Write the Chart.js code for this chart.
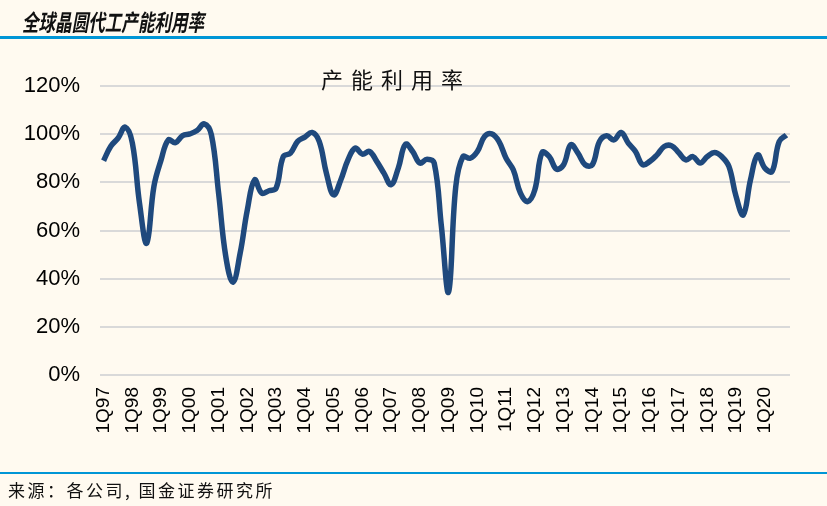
<!DOCTYPE html>
<html>
<head>
<meta charset="utf-8">
<script src="https://cdn.jsdelivr.net/npm/chart.js@4.4.0/dist/chart.umd.min.js"></script>
<style>
  html, body { margin: 0; padding: 0; background: #fffaf0; }
  #wrap { position: relative; width: 827px; height: 506px; overflow: hidden; }
  #head {
    position: absolute; left: 22px; top: 6px; margin: 0;
    font-family: "Noto Sans CJK SC", sans-serif; font-weight: bold; font-style: italic;
    font-size: 23px; line-height: 30px; color: #111;
    transform: scaleX(0.72); transform-origin: left top;
  }
  #topline { position: absolute; left: 0; top: 36px; width: 827px; height: 3px; background: #0096d6; }
  #subtitle {
    position: absolute; left: 321px; top: 62px;
    font-family: "Noto Sans CJK SC", sans-serif; font-size: 22px; letter-spacing: 8px; color: #111;
  }
  #botline { position: absolute; left: 0; top: 472px; width: 827px; height: 2px; background: #0096d6; }
  #source {
    position: absolute; left: 8px; top: 477px;
    font-family: "Noto Sans CJK SC", sans-serif; font-size: 17px; letter-spacing: 2.5px; color: #111;
  }
  #box { position: absolute; left: 0; top: 0; width: 827px; height: 506px; }
</style>
</head>
<body>
<div id="wrap">
  <div id="box"><canvas id="chart"></canvas></div>
  <div id="head">全球晶圆代工产能利用率</div>
  <div id="topline"></div>
  <div id="subtitle">产能利用率</div>
  <div id="botline"></div>
  <div id="source">来源：各公司, 国金证券研究所</div>
</div>

<script>
// quarters 1Q97 .. 4Q20
const years = ["97", "98", "99", "00", "01", "02", "03", "04", "05", "06", "07", "08",
               "09", "10", "11", "12", "13", "14", "15", "16", "17", "18", "19", "20"];
const quarters = ["1Q", "2Q", "3Q", "4Q"];

// utilization (%), one row per year
const utilization = [
  89, 95, 98.3, 102.9,
  96.3, 71.3, 54.7, 78.3,
  89.3, 97.6, 96.5, 99.4,
  100.1, 101.5, 104.3, 99.7,
  75.5, 49.2, 38.5, 50.6,
  68.6, 81, 75.5, 76.5,
  77.6, 90.7, 92.1, 97,
  98.8, 100.7, 97, 83.8,
  74.8, 81, 89.3, 94.2,
  91.7, 92.8, 88.7, 83.8,
  79, 85.9, 95.8, 92.8,
  88, 89.6, 88, 61.7,
  34.5, 78.3, 90.7, 90,
  92.8, 99, 100.1, 97,
  90, 85.2, 75.5, 72,
  76.9, 92.4, 90.7, 85.5,
  87.3, 95.6, 92.1, 87.3,
  87.3, 97, 99.3, 97.6,
  100.7, 96.3, 92.8, 87.3,
  88.7, 91.4, 94.9, 95.2,
  92.4, 89.3, 90.7, 88,
  90.7, 92.4, 90.7, 86.6,
  74.1, 66.5, 81, 91.4,
  85.9, 84.5, 97, 99.6
];

const yTicks = [0, 20, 40, 60, 80, 100, 120];

const labels = [];
years.forEach(y => quarters.forEach(q => labels.push(q + y)));

new Chart(document.getElementById("chart"), {
  type: "line",
  data: {
    labels: labels,
    datasets: [{
      data: utilization,
      borderColor: "#1f497d",
      borderWidth: 5.5,
      pointRadius: 0,
      tension: 0.4,
      fill: false
    }]
  },
  options: {
    responsive: true,
    maintainAspectRatio: false,
    animation: false,
    layout: { padding: { left: 0, right: 37, top: 86, bottom: 46 } },
    plugins: { legend: { display: false }, tooltip: { enabled: false } },
    scales: {
      x: {
        offset: true,
        grid: { display: false },
        border: { display: false },
        ticks: {
          autoSkip: false,
          minRotation: 90,
          maxRotation: 90,
          padding: 4,
          color: "#000",
          font: { family: "Liberation Sans, Arial", size: 19 },
          callback: function (v, i) { return i % 4 === 0 ? labels[i] : ""; }
        },
        afterFit: function (s) { s.height = 85; }
      },
      y: {
        min: 0,
        max: 120,
        afterBuildTicks: function (s) { s.ticks = yTicks.map(v => ({ value: v })); },
        grid: { color: "#d9d9d9", lineWidth: 2, drawTicks: false },
        border: { display: false },
        ticks: {
          padding: 20,
          color: "#000",
          font: { family: "Liberation Sans, Arial", size: 22 },
          callback: function (v) { return v + "%"; }
        },
        afterFit: function (s) { s.width = 100; }
      }
    }
  }
});
</script>
</body>
</html>
